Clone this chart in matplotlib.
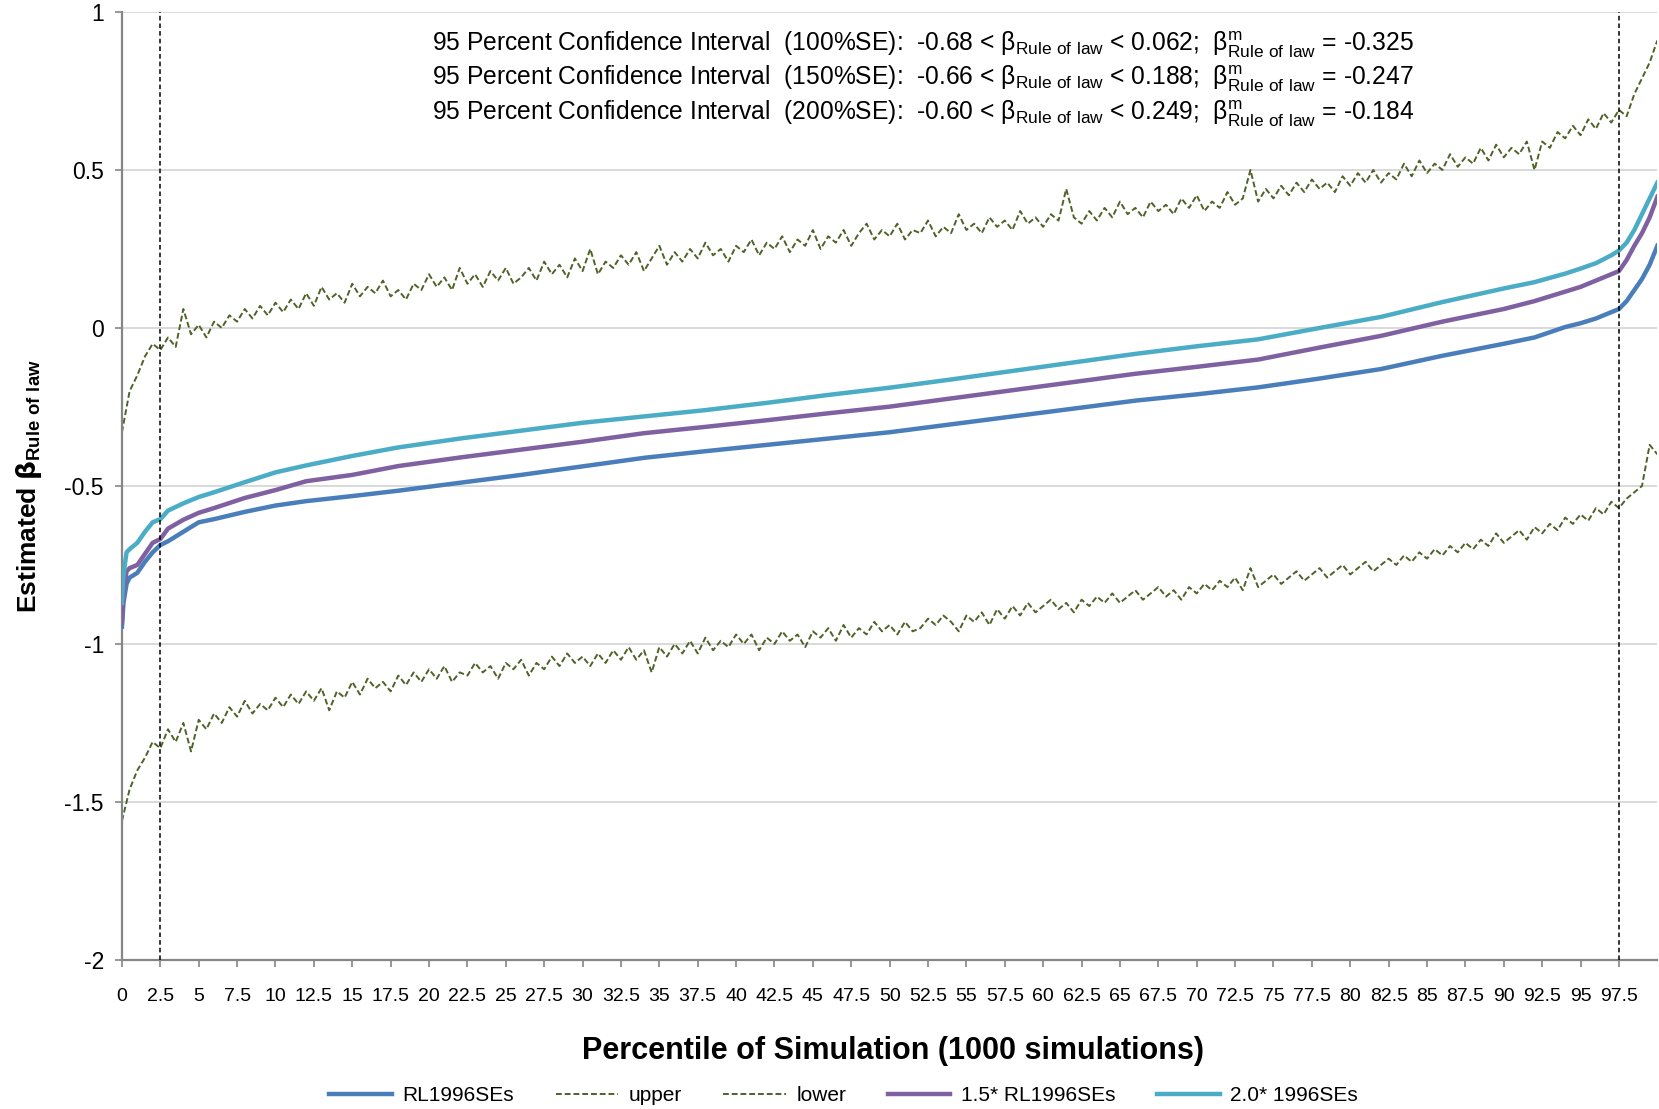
import matplotlib
matplotlib.use("Agg")
import matplotlib.pyplot as plt
import numpy as np
from matplotlib import font_manager

# ---- data ----
# percentile positions for the three smooth quantile curves
pct_smooth = [0, 0.1, 0.3, 0.5, 1, 1.5, 2, 2.5, 3, 4, 5, 6, 8, 10, 12, 15, 18, 22, 26, 30,
              34, 38, 42, 46, 50, 54, 58, 62, 66, 70, 74, 78, 82, 86, 90, 92, 94, 95, 96,
              97, 97.5, 98, 98.5, 99, 99.5, 100]
rl_100 = [-0.945, -0.87, -0.81, -0.79, -0.775, -0.74, -0.71, -0.687, -0.675, -0.645, -0.615,
          -0.605, -0.582, -0.562, -0.548, -0.532, -0.515, -0.49, -0.465, -0.438, -0.411, -0.39,
          -0.37, -0.35, -0.33, -0.305, -0.28, -0.255, -0.23, -0.21, -0.188, -0.16, -0.13,
          -0.088, -0.05, -0.03, 0.003, 0.015, 0.03, 0.05, 0.06, 0.085, 0.12, 0.155, 0.2, 0.26]
rl_150 = [-0.93, -0.84, -0.77, -0.76, -0.75, -0.715, -0.68, -0.668, -0.635, -0.607, -0.585,
          -0.57, -0.538, -0.513, -0.485, -0.465, -0.437, -0.41, -0.385, -0.36, -0.333, -0.313,
          -0.292, -0.27, -0.249, -0.223, -0.197, -0.171, -0.145, -0.123, -0.1, -0.062, -0.025,
          0.02, 0.06, 0.085, 0.115, 0.13, 0.15, 0.17, 0.18, 0.215, 0.26, 0.3, 0.35, 0.415]
rl_200 = [-0.87, -0.78, -0.71, -0.70, -0.68, -0.645, -0.615, -0.605, -0.578, -0.555, -0.535,
          -0.52, -0.488, -0.457, -0.435, -0.405, -0.378, -0.35, -0.325, -0.3, -0.28, -0.26,
          -0.237, -0.212, -0.189, -0.163, -0.136, -0.109, -0.082, -0.058, -0.036, 0.0, 0.035,
          0.082, 0.125, 0.145, 0.172, 0.188, 0.205, 0.23, 0.245, 0.27, 0.31, 0.36, 0.41, 0.46]

# upper / lower bands, one value every 0.5 percentile
upper = [-0.33, -0.20, -0.15, -0.09, -0.05, -0.07, -0.03, -0.06, 0.06, -0.02,
         0.01, -0.03, 0.02, 0.00, 0.04, 0.02, 0.06, 0.03, 0.07, 0.04,
         0.08, 0.05, 0.09, 0.06, 0.11, 0.07, 0.13, 0.09, 0.11, 0.08,
         0.14, 0.10, 0.13, 0.11, 0.15, 0.10, 0.12, 0.09, 0.14, 0.12,
         0.17, 0.13, 0.16, 0.12, 0.19, 0.14, 0.17, 0.13, 0.18, 0.15,
         0.19, 0.14, 0.16, 0.19, 0.15, 0.21, 0.17, 0.20, 0.16, 0.22,
         0.18, 0.25, 0.17, 0.21, 0.19, 0.23, 0.20, 0.24, 0.18, 0.22,
         0.26, 0.20, 0.24, 0.21, 0.25, 0.22, 0.27, 0.23, 0.25, 0.21,
         0.26, 0.24, 0.28, 0.23, 0.27, 0.25, 0.29, 0.24, 0.28, 0.26,
         0.31, 0.25, 0.29, 0.27, 0.31, 0.26, 0.30, 0.33, 0.28, 0.31,
         0.29, 0.33, 0.28, 0.31, 0.30, 0.34, 0.29, 0.32, 0.30, 0.36,
         0.31, 0.33, 0.30, 0.35, 0.32, 0.34, 0.31, 0.37, 0.33, 0.35,
         0.32, 0.36, 0.34, 0.44, 0.35, 0.33, 0.37, 0.34, 0.38, 0.35,
         0.40, 0.36, 0.38, 0.35, 0.40, 0.37, 0.39, 0.36, 0.41, 0.38,
         0.42, 0.37, 0.40, 0.38, 0.43, 0.39, 0.41, 0.50, 0.40, 0.44,
         0.41, 0.45, 0.42, 0.46, 0.43, 0.47, 0.44, 0.46, 0.43, 0.48,
         0.45, 0.49, 0.46, 0.50, 0.46, 0.49, 0.47, 0.52, 0.48, 0.53,
         0.49, 0.52, 0.50, 0.55, 0.51, 0.54, 0.52, 0.57, 0.53, 0.58,
         0.54, 0.57, 0.55, 0.59, 0.50, 0.59, 0.57, 0.62, 0.60, 0.64,
         0.61, 0.66, 0.63, 0.68, 0.65, 0.69, 0.67, 0.74, 0.79, 0.84,
         0.91]
lower = [-1.56, -1.46, -1.40, -1.36, -1.31, -1.33, -1.27, -1.31, -1.25, -1.34,
         -1.24, -1.27, -1.22, -1.25, -1.20, -1.23, -1.18, -1.22, -1.19, -1.21,
         -1.17, -1.20, -1.16, -1.19, -1.15, -1.18, -1.14, -1.21, -1.15, -1.17,
         -1.12, -1.16, -1.11, -1.14, -1.12, -1.15, -1.10, -1.13, -1.09, -1.12,
         -1.08, -1.11, -1.07, -1.12, -1.09, -1.10, -1.06, -1.09, -1.07, -1.11,
         -1.06, -1.08, -1.05, -1.10, -1.06, -1.08, -1.04, -1.07, -1.03, -1.06,
         -1.04, -1.07, -1.03, -1.06, -1.02, -1.05, -1.01, -1.05, -1.02, -1.09,
         -1.01, -1.04, -1.00, -1.03, -0.99, -1.03, -0.98, -1.02, -0.99, -1.01,
         -0.97, -1.00, -0.97, -1.02, -0.98, -1.00, -0.96, -0.99, -0.97, -1.01,
         -0.96, -0.98, -0.95, -0.99, -0.94, -0.98, -0.95, -0.97, -0.93, -0.96,
         -0.94, -0.97, -0.93, -0.96, -0.95, -0.92, -0.94, -0.91, -0.93, -0.96,
         -0.91, -0.93, -0.90, -0.94, -0.89, -0.92, -0.88, -0.91, -0.87, -0.90,
         -0.88, -0.86, -0.89, -0.87, -0.90, -0.86, -0.88, -0.85, -0.87, -0.84,
         -0.87, -0.85, -0.83, -0.86, -0.84, -0.82, -0.85, -0.83, -0.86, -0.82,
         -0.84, -0.81, -0.83, -0.80, -0.82, -0.79, -0.83, -0.76, -0.82, -0.80,
         -0.78, -0.81, -0.79, -0.77, -0.80, -0.78, -0.76, -0.79, -0.77, -0.75,
         -0.78, -0.76, -0.74, -0.77, -0.75, -0.73, -0.75, -0.72, -0.74, -0.71,
         -0.73, -0.70, -0.72, -0.69, -0.71, -0.68, -0.70, -0.67, -0.69, -0.65,
         -0.68, -0.66, -0.64, -0.67, -0.63, -0.65, -0.62, -0.64, -0.60, -0.62,
         -0.59, -0.61, -0.57, -0.59, -0.55, -0.57, -0.54, -0.52, -0.50, -0.37,
         -0.40]
pct_band = np.linspace(0, 100, len(upper))

ci_lines = [
    r"95 Percent Confidence Interval  (100%SE):  -0.68 < $\beta_{Rule\ of\ law}$ < 0.062;  $\beta^{m}_{Rule\ of\ law}$ = -0.325",
    r"95 Percent Confidence Interval  (150%SE):  -0.66 < $\beta_{Rule\ of\ law}$ < 0.188;  $\beta^{m}_{Rule\ of\ law}$ = -0.247",
    r"95 Percent Confidence Interval  (200%SE):  -0.60 < $\beta_{Rule\ of\ law}$ < 0.249;  $\beta^{m}_{Rule\ of\ law}$ = -0.184",
]
x_ticks = np.arange(0, 100, 2.5)
y_ticks = [1, 0.5, 0, -0.5, -1, -1.5, -2]

# ---- fonts ----
names = {f.name for f in font_manager.fontManager.ttflist}
base = "Liberation Sans Narrow" if "Liberation Sans Narrow" in names else "Liberation Sans"
plt.rcParams["font.family"] = [base, "DejaVu Sans"]
plt.rcParams["mathtext.default"] = "regular"

C_BLUE = "#4a7ebb"
C_PURPLE = "#7f60a0"
C_CYAN = "#4bacc6"
C_GREEN = "#4f6228"

fig = plt.figure(figsize=(16.59, 11.09), dpi=100)
ax = fig.add_axes([0.0735, 0.1344, 0.9255, 0.8548])

ax.plot(pct_smooth, rl_100, color=C_BLUE, lw=3.2, label="RL1996SEs", zorder=3)
ax.plot(pct_band, upper, color=C_GREEN, lw=1.4, dashes=(3, 1.5), label="upper", zorder=2)
ax.plot(pct_band, lower, color=C_GREEN, lw=1.4, dashes=(3, 1.5), label="lower", zorder=2)
ax.plot(pct_smooth, rl_150, color=C_PURPLE, lw=3.2, label="1.5* RL1996SEs", zorder=3)
ax.plot(pct_smooth, rl_200, color=C_CYAN, lw=3.2, label="2.0* 1996SEs", zorder=3)

for xv in (2.5, 97.5):
    ax.axvline(xv, color="black", lw=1.1, dashes=(3, 2), zorder=4)

ax.set_xlim(0, 100)
ax.set_ylim(-2, 1)
ax.set_yticks(y_ticks)
ax.set_yticklabels([f"{v:g}" for v in y_ticks], fontsize=16.5)
ax.set_xticks(x_ticks)
ax.set_xticklabels([f"{v:g}" for v in x_ticks], fontsize=14)
ax.tick_params(axis="x", length=5, width=1.2, color="#868686", pad=15, direction="out")
ax.tick_params(axis="y", length=5, width=1.2, color="#868686", pad=8, direction="out")

ax.grid(axis="y", color="#d9d9d9", lw=1.4)
ax.set_axisbelow(True)
for side in ("top", "right"):
    ax.spines[side].set_visible(False)
for side in ("left", "bottom"):
    ax.spines[side].set_color("#868686")
    ax.spines[side].set_linewidth(1.6)

ax.set_xlabel("Percentile of Simulation (1000 simulations)", fontsize=22, fontweight="bold")
ax.xaxis.set_label_coords(0.502, -0.080)
ax.set_ylabel(r"Estimated $\mathbf{\beta}_{Rule\ of\ law}$", fontsize=19, fontweight="bold")
ax.yaxis.set_label_coords(-0.051, 0.5)

for i, line in enumerate(ci_lines):
    ax.text(0.202, 0.966 - i * 0.0365, line, transform=ax.transAxes,
            fontsize=17.7, ha="left", va="center")

ax.legend(loc="center", bbox_to_anchor=(0.470, -0.143), ncol=5, frameon=False,
          fontsize=15, handlelength=3.0, columnspacing=2.0, handletextpad=0.5)

fig.savefig("out.png", dpi=100)
